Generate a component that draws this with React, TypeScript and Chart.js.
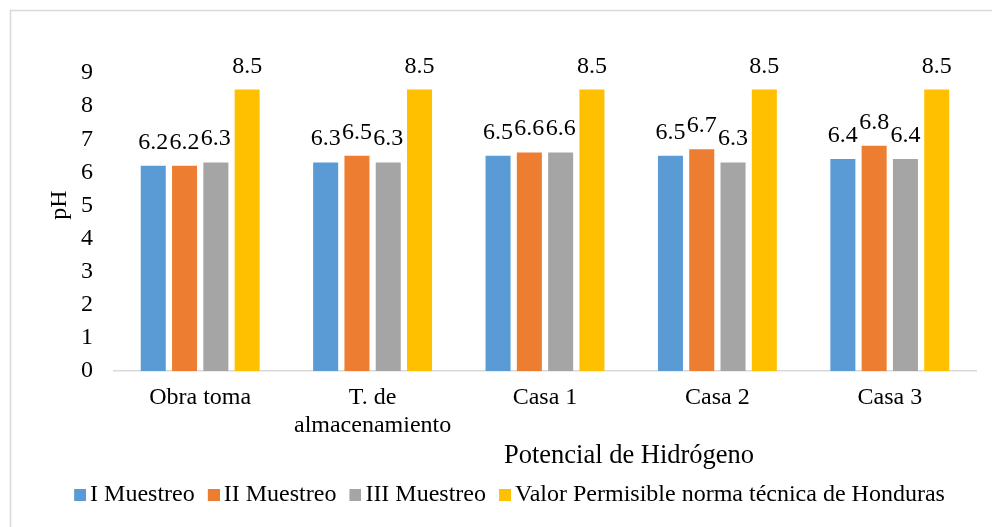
import React, { useEffect, useRef } from "react";
import { Chart, registerables } from "chart.js";

Chart.register(...registerables);

const categories: (string | string[])[] = [
  "Obra toma",
  ["T. de", "almacenamiento"],
  "Casa 1",
  "Casa 2",
  "Casa 3",
];
const muestreo1 = [6.2, 6.3, 6.5, 6.5, 6.4];
const muestreo2 = [6.2, 6.5, 6.6, 6.7, 6.8];
const muestreo3 = [6.3, 6.3, 6.6, 6.3, 6.4];
const valorPermisible = [8.5, 8.5, 8.5, 8.5, 8.5];
const seriesNames = [
  "I Muestreo",
  "II Muestreo",
  "III Muestreo",
  "Valor Permisible norma técnica de Honduras",
];
const seriesColors = ["#5b9bd5", "#ed7d31", "#a5a5a5", "#ffc000"];
const xTitle = "Potencial de Hidrógeno";
const yTitle = "pH";

const FONT = "'Liberation Serif', 'Times New Roman', serif";
const TEXT = "#000000";

const extrasPlugin = {
  id: "extras",
  beforeDraw(chart: any) {
    const ctx = chart.ctx;
    ctx.save();
    ctx.strokeStyle = "#d9d9d9";
    ctx.lineWidth = 1.5;
    ctx.beginPath();
    ctx.moveTo(10.5, 1000);
    ctx.lineTo(10.5, 10.5);
    ctx.lineTo(1000, 10.5);
    ctx.stroke();
    ctx.restore();
  },
  afterDatasetsDraw(chart: any) {
    const ctx = chart.ctx;
    ctx.save();
    ctx.fillStyle = TEXT;
    ctx.font = `24px ${FONT}`;
    ctx.textAlign = "center";
    ctx.textBaseline = "alphabetic";
    chart.data.datasets.forEach((ds: any, di: number) => {
      const meta = chart.getDatasetMeta(di);
      meta.data.forEach((bar: any, i: number) => {
        const v = ds.data[i];
        ctx.fillText(v.toFixed(1), bar.x, bar.y - 17);
      });
    });
    // axis titles
    ctx.font = `26.5px ${FONT}`;
    ctx.fillText(xTitle, 629, 463);
    ctx.font = `24px ${FONT}`;
    ctx.translate(66, 205);
    ctx.rotate(-Math.PI / 2);
    ctx.fillText(yTitle, 0, 0);
    ctx.restore();
  },
};

function makeSwatch(color: string): HTMLCanvasElement {
  const c = document.createElement("canvas");
  c.width = 17;
  c.height = 12;
  const g = c.getContext("2d")!;
  g.fillStyle = color;
  g.fillRect(5, 0, 12, 12);
  return c;
}

export default function App() {
  const ref = useRef<HTMLCanvasElement>(null);
  useEffect(() => {
    if (!ref.current) return;
    const data = [muestreo1, muestreo2, muestreo3, valorPermisible];
    const swatches = seriesColors.map(makeSwatch);
    const baseGen = (Chart as any).defaults.plugins.legend.labels.generateLabels;
    const chart = new Chart(ref.current, {
      type: "bar",
      data: {
        labels: categories,
        datasets: data.map((d, i) => ({
          label: seriesNames[i],
          data: d,
          backgroundColor: seriesColors[i],
          borderWidth: 0,
          categoryPercentage: 0.726,
          barPercentage: 0.8,
        })),
      },
      options: {
        responsive: false,
        animation: false,
        layout: { padding: { left: 46, right: 16, top: 73, bottom: 10 } },
        scales: {
          x: {
            grid: { display: false, drawTicks: false },
            border: { display: true, color: "#d9d9d9", width: 1.5 },
            ticks: {
              color: TEXT,
              font: { family: FONT, size: 24, lineHeight: 1.1667 },
              padding: 13,
              autoSkip: false,
              maxRotation: 0,
            },
            afterFit: (s: any) => {
              s.height = 96;
            },
          },
          y: {
            min: 0,
            max: 9,
            grid: { display: false, drawTicks: false },
            border: { display: false },
            ticks: {
              stepSize: 1,
              color: TEXT,
              font: { family: FONT, size: 24 },
              padding: 21,
            },
            afterFit: (s: any) => {
              s.width = 68;
            },
          },
        },
        plugins: {
          tooltip: { enabled: false },
          legend: {
            position: "bottom",
            labels: {
              usePointStyle: true,
              boxWidth: 1,
              boxHeight: 12,
              padding: 16,
              color: TEXT,
              font: { family: FONT, size: 24 },
              generateLabels: (ch: any) =>
                baseGen(ch).map((it: any) => ({
                  ...it,
                  pointStyle: swatches[it.datasetIndex],
                  lineWidth: 0,
                })),
            },
          },
        },
      },
      plugins: [extrasPlugin],
    });
    return () => chart.destroy();
  }, []);
  return (
    <div style={{ position: "fixed", left: 0, top: 0, width: 992, height: 527, background: "#fff" }}>
      <canvas ref={ref} width={992} height={527} />
    </div>
  );
}
